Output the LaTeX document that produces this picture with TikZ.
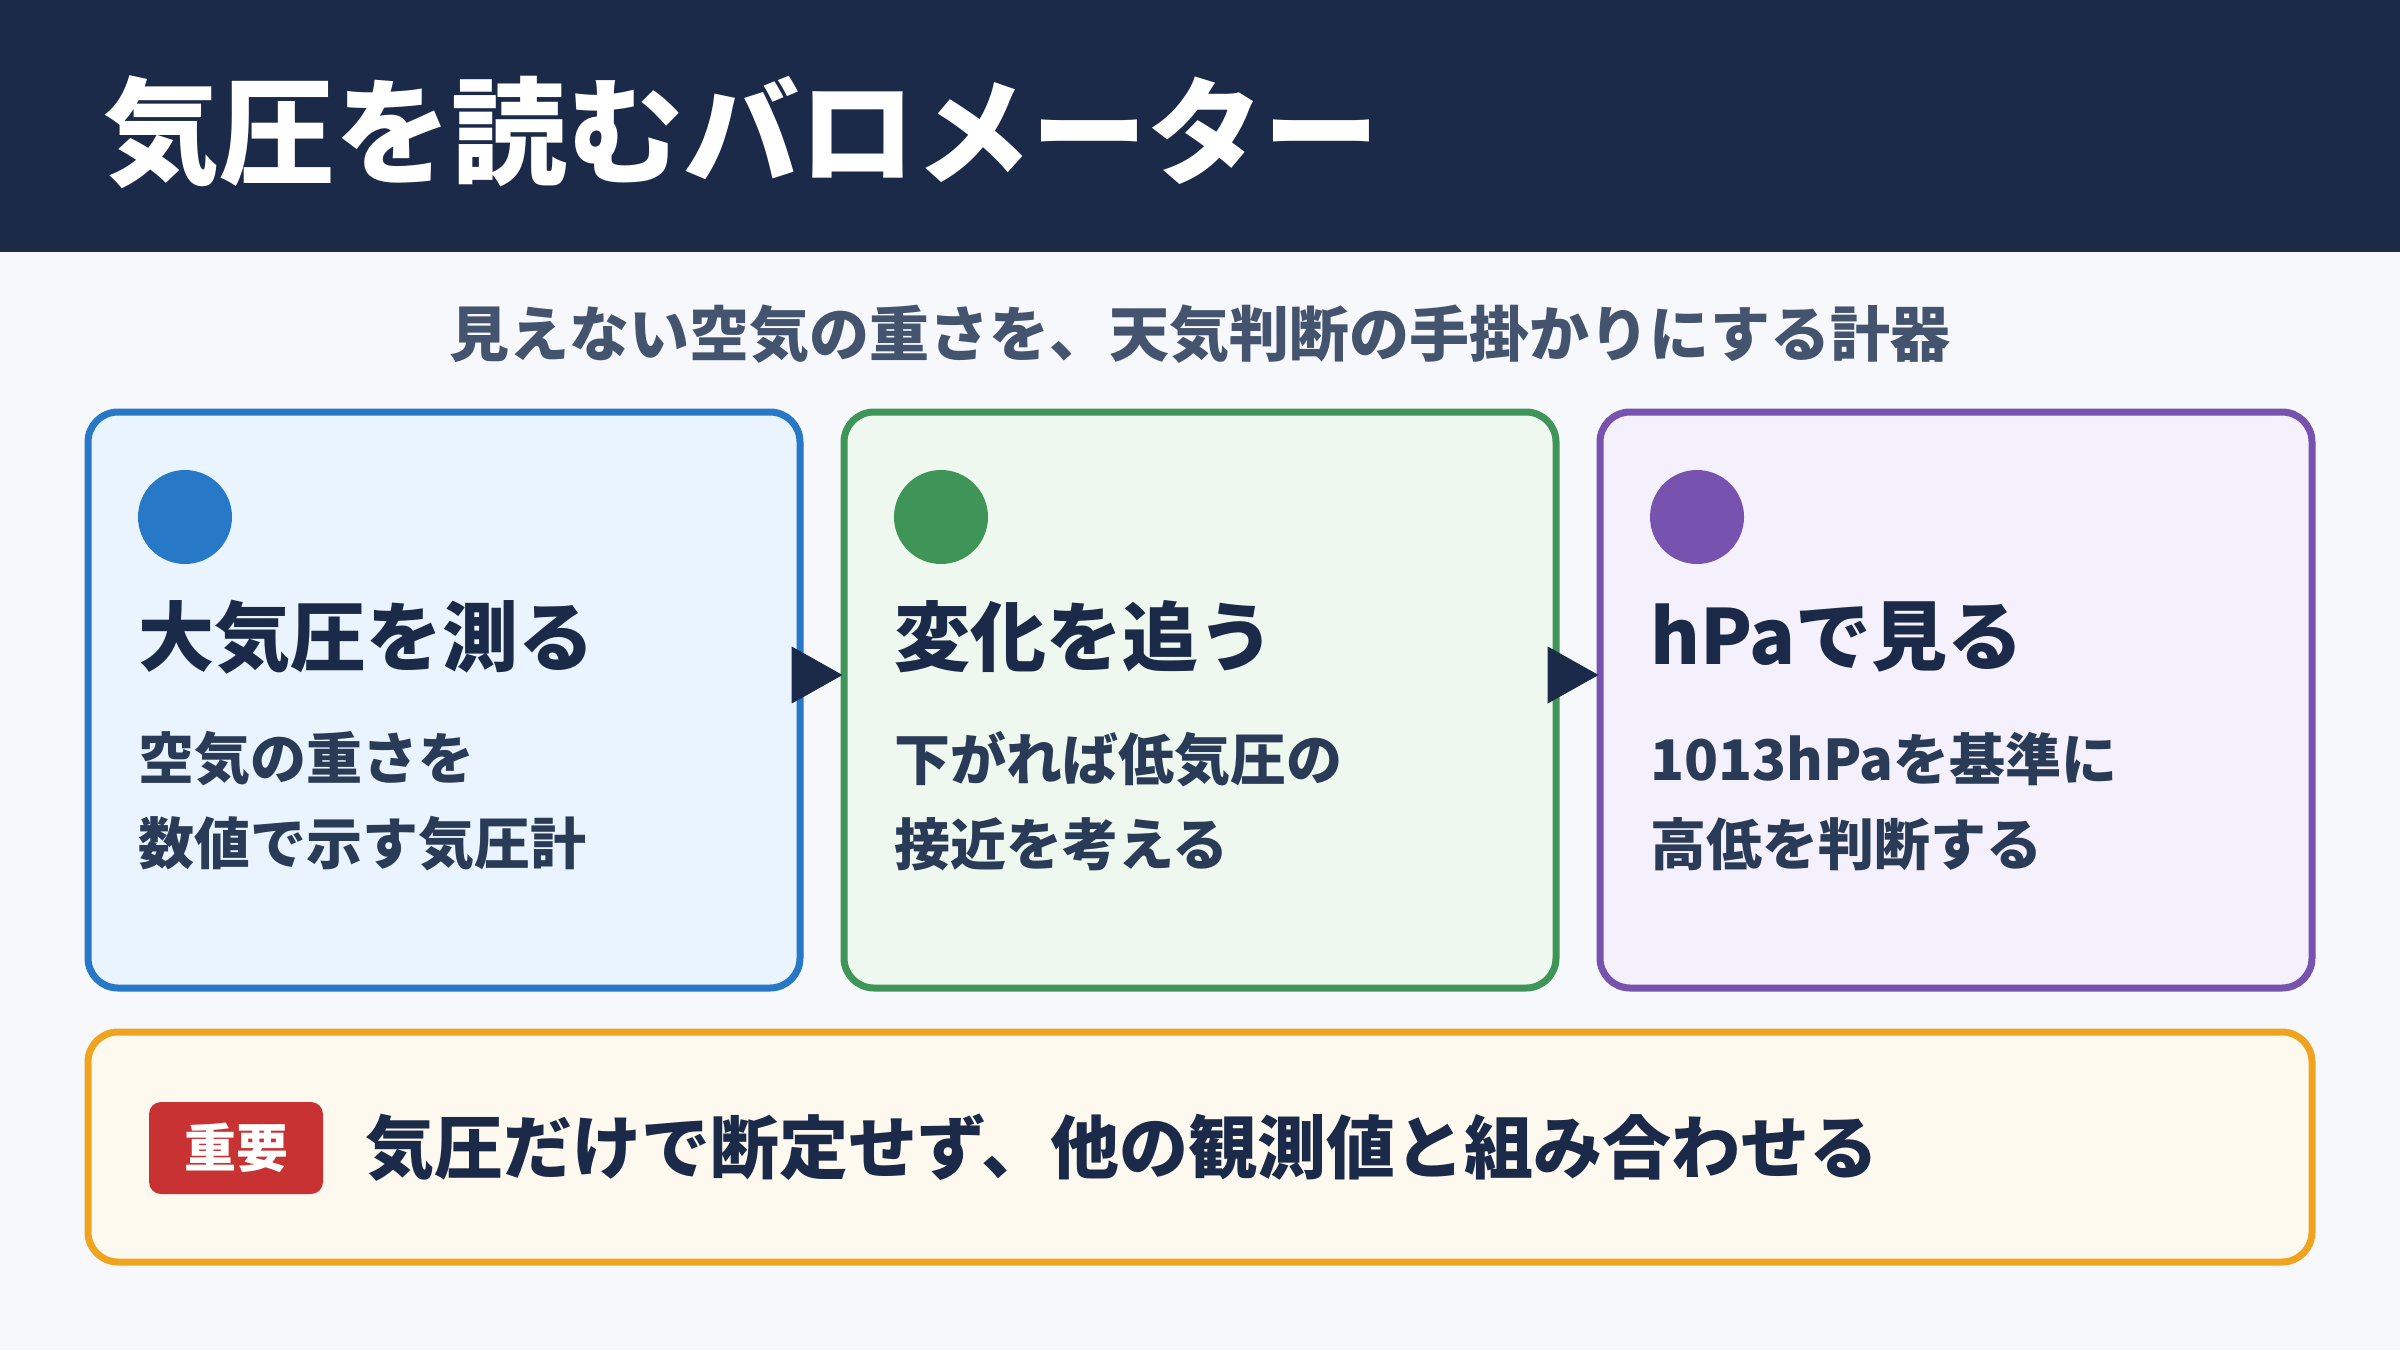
\documentclass[tikz,border=0pt]{standalone}
\usepackage{fontspec}
\setmainfont{Noto Sans CJK JP}
\usetikzlibrary{arrows.meta}
\definecolor{navy}{HTML}{1C2A4A}
\definecolor{subgray}{HTML}{44546E}
\definecolor{bodytext}{HTML}{2A3B58}
\definecolor{bgcol}{HTML}{F6F8FC}
\definecolor{cblue}{HTML}{2878C8}
\definecolor{cbluefill}{HTML}{EAF4FE}
\definecolor{cgreen}{HTML}{3F9558}
\definecolor{cgreenfill}{HTML}{EEF8EF}
\definecolor{cpurple}{HTML}{7752AE}
\definecolor{cpurplefill}{HTML}{F4F0FC}
\definecolor{corange}{HTML}{F0A31E}
\definecolor{corangefill}{HTML}{FEF9EE}
\definecolor{cred}{HTML}{C93232}
\tikzset{
  card/.style={draw=#1, fill=#1fill, line width=7pt, rounded corners=30pt,
    minimum width=712pt, minimum height=576pt, inner sep=0pt},
  dot/.style={circle, fill=#1, minimum size=94pt, inner sep=0pt},
  headtext/.style={anchor=west, inner sep=0pt, text=navy, font=\fontsize{76}{76}\selectfont\bfseries},
  bodytxt/.style={anchor=west, inner sep=0pt, text=bodytext, font=\fontsize{56}{56}\selectfont\bfseries},
  flow/.style={navy, line width=1pt, -{Triangle[length=51pt,width=57pt]}, shorten >=-2pt}
}
\begin{document}
\begin{tikzpicture}[x=1pt,y=-1pt]
\fill[bgcol] (0,0) rectangle (2400,1350);
\useasboundingbox (0,0) rectangle (2400,1350);
\fill[navy] (0,0) rectangle (2400,252);
\node[anchor=west, inner sep=0pt, text=white, font=\fontsize{116}{116}\selectfont\bfseries] (title) at (103,132) {気圧を読むバロメーター};
\node[inner sep=0pt, text=subgray, font=\fontsize{60}{60}\selectfont\bfseries] (sub) at (1200,334) {見えない空気の重さを、天気判断の手掛かりにする計器};
% cards
\node[card=cblue] (c1) at (444,700) {};
\node[card=cgreen] (c2) at (1200,700) {};
\node[card=cpurple] (c3) at (1956,700) {};
\node[dot=cblue] (d1) at (185,517) {};
\node[dot=cgreen] (d2) at (941,517) {};
\node[dot=cpurple] (d3) at (1697,517) {};
\node[headtext] (h1) at (138,637) {大気圧を測る};
\node[bodytxt] (b1a) at (138,759) {空気の重さを};
\node[bodytxt] (b1b) at (138,844) {数値で示す気圧計};
\node[headtext] (h2) at (894,637) {変化を追う};
\node[bodytxt] (b2a) at (894,759) {下がれば低気圧の};
\node[bodytxt] (b2b) at (894,844) {接近を考える};
\node[headtext] (h3) at (1650,637) {hPaで見る};
\node[bodytxt] (b3a) at (1650,759) {1013hPaを基準に};
\node[bodytxt] (b3b) at (1650,844) {高低を判断する};
\draw[flow] ([yshift=25pt]c1.east) -- ([yshift=25pt]c2.west);
\draw[flow] ([yshift=25pt]c2.east) -- ([yshift=25pt]c3.west);
% bottom note
\node[draw=corange, fill=corangefill, line width=7pt, rounded corners=30pt,
  minimum width=2224pt, minimum height=230pt, inner sep=0pt] (note) at (1200,1147) {};
\node[fill=cred, rounded corners=12pt, minimum width=174pt, minimum height=92pt, inner sep=0pt,
  text=white, font=\fontsize{52}{52}\selectfont\bfseries] (badge) at (236,1148) {重要};
\node[anchor=west, inner sep=0pt, text=navy, font=\fontsize{69}{69}\selectfont\bfseries] (warn) at (365,1148) {気圧だけで断定せず、他の観測値と組み合わせる};
\end{tikzpicture}
\end{document}
